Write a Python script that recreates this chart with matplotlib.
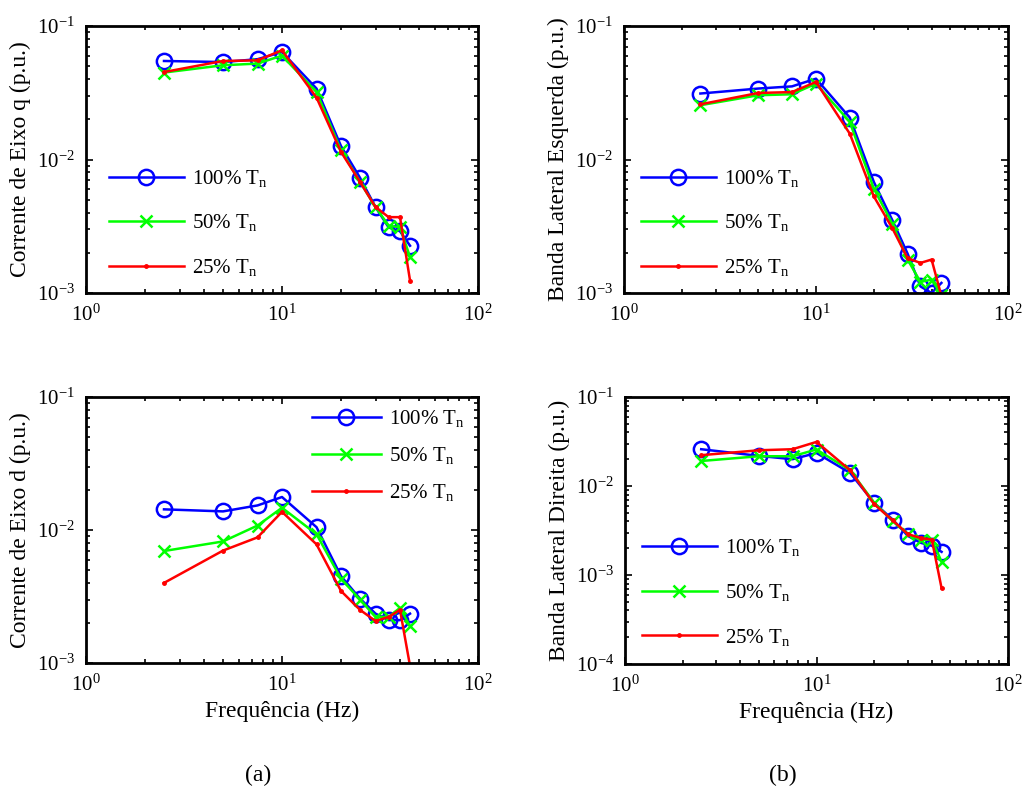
import matplotlib
matplotlib.use("Agg")
import matplotlib.pyplot as plt
import numpy as np

plt.rcParams['font.family'] = ['Liberation Serif', 'DejaVu Serif']
plt.rcParams['mathtext.fontset'] = 'custom'
plt.rcParams['mathtext.rm'] = 'Liberation Serif'
plt.rcParams['mathtext.it'] = 'Liberation Serif:italic'
plt.rcParams['axes.formatter.use_mathtext'] = True
plt.rcParams['font.size'] = 15

freq = [2.5, 5, 7.5, 10, 15, 20, 25, 30, 35, 40, 45]
labels = ['100% T$_\\mathregular{n}$', '50% T$_\\mathregular{n}$', '25% T$_\\mathregular{n}$']

# corrente de eixo q
iq_100 = [0.0547, 0.0537, 0.0564, 0.0638, 0.034, 0.0126, 0.0073, 0.0044, 0.0031, 0.0029, 0.00226]
iq_50 = [0.0448, 0.0508, 0.0523, 0.060, 0.032, 0.0117, 0.0068, 0.0044, 0.0032, 0.0031, 0.00186]
iq_25 = [0.0452, 0.0547, 0.0553, 0.0658, 0.0291, 0.0114, 0.0068, 0.0044, 0.0037, 0.0037, 0.00124]

# corrente de eixo d
id_100 = [0.0143, 0.0138, 0.0153, 0.0177, 0.0105, 0.0045, 0.00305, 0.00235, 0.0021, 0.0021, 0.00235]
id_50 = [0.00695, 0.0082, 0.0108, 0.0147, 0.0093, 0.0043, 0.0030, 0.00222, 0.00222, 0.0026, 0.00189]
id_25 = [0.0040, 0.0070, 0.0088, 0.0137, 0.0078, 0.00348, 0.00251, 0.00207, 0.00222, 0.00251, 0.00095]

# banda lateral esquerda
ble_100 = [0.0312, 0.034, 0.0353, 0.0403, 0.0206, 0.0068, 0.0035, 0.00197, 0.00112, 0.0010, 0.00119]
ble_50 = [0.0255, 0.0303, 0.0308, 0.037, 0.0191, 0.00605, 0.0033, 0.00178, 0.00121, 0.00126, 0.00097]
ble_25 = [0.0259, 0.0315, 0.032, 0.0381, 0.0156, 0.0053, 0.00305, 0.00182, 0.00168, 0.00178, 0.00095]

# banda lateral direita
bld_100 = [0.0259, 0.0218, 0.020, 0.0235, 0.014, 0.00646, 0.0042, 0.00275, 0.0023, 0.00213, 0.00182]
bld_50 = [0.0191, 0.0216, 0.0216, 0.0257, 0.015, 0.0065, 0.00403, 0.00288, 0.00247, 0.0025, 0.00141]
bld_25 = [0.0222, 0.0252, 0.0259, 0.0313, 0.015, 0.00625, 0.0041, 0.00288, 0.0026, 0.0025, 0.00071]

W, H = 1022, 792
fig = plt.figure(figsize=(W / 100, H / 100), dpi=100)

def px(l, t, r, b):
    return [l / W, 1 - b / H, (r - l) / W, (b - t) / H]

def painel(pos, s100, s50, s25, ylab, ylim, anchor, spacing, hl=3.6, xlab=False):
    ax = fig.add_axes(px(*pos))
    ax.loglog(freq, s100, '-o', color='#0000ff', lw=1.8, ms=11, mfc='none', mew=1.8, label=labels[0])
    ax.loglog(freq, s50, '-x', color='#00ff00', lw=1.8, ms=8, mew=1.8, label=labels[1])
    ax.loglog(freq, s25, '-', marker='.', color='#ff0000', lw=1.8, ms=5, label=labels[2])
    ax.set_xlim(1, 100)
    ax.set_ylim(*ylim)
    ax.tick_params(which='both', direction='in', top=True, right=True, width=1.2, labelsize=15)
    ax.tick_params(which='major', length=5, pad=8)
    ax.tick_params(which='minor', length=3)
    for sp in ax.spines.values():
        sp.set_linewidth(2)
    ax.set_ylabel(ylab, fontsize=17)
    if xlab:
        ax.set_xlabel('Frequência (Hz)', fontsize=17)
    ax.legend(loc='upper left', bbox_to_anchor=anchor, frameon=False, handlelength=hl,
              handletextpad=0.4, labelspacing=spacing, fontsize=15, borderaxespad=0)
    return ax

painel((86, 26, 478, 293), iq_100, iq_50, iq_25, 'Corrente de Eixo q (p.u.)', (1e-3, 1e-1),
       (0.037, 0.50), 1.13)
painel((624, 26, 1008, 293), ble_100, ble_50, ble_25, 'Banda Lateral Esquerda (p.u.)', (1e-3, 1e-1),
       (0.022, 0.50), 1.13)
painel((86, 397, 478, 663), id_100, id_50, id_25, 'Corrente de Eixo d (p.u.)', (1e-3, 1e-1),
       (0.555, 0.99), 0.77, hl=3.3, xlab=True)
painel((625, 397, 1008, 664), bld_100, bld_50, bld_25, 'Banda Lateral Direita (p.u.)', (1e-4, 1e-1),
       (0.022, 0.505), 1.13, xlab=True)

fig.text(258 / W, 1 - 775 / H, '(a)', ha='center', va='center', fontsize=17)
fig.text(783 / W, 1 - 775 / H, '(b)', ha='center', va='center', fontsize=17)

fig.savefig('out.png', dpi=100)
